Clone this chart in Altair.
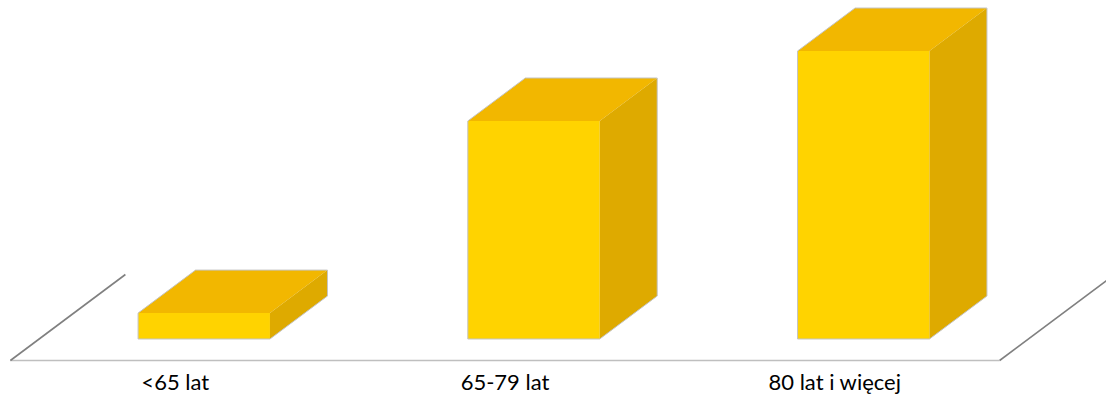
import altair as alt
import pandas as pd

# ---- data ----
categories = ["<65 lat", "65-79 lat", "80 lat i więcej"]
values = [9.0, 75.7, 100.0]

# ---- style / geometry constants (in data units) ----
BAR_W = 0.4          # width of the front face, in category units
DX = 0.1744          # depth offset along x
DY = 14.93           # depth offset along y (value units)
X_DOMAIN = [-0.6187, 2.7354]
Y_DOMAIN = [-19.792, 117.708]

FRONT = "#FFD300"
TOP = "#F2B700"
SIDE = "#DEAA00"
EDGE = "#C4C4C4"

front_rows, top_rows, side_rows, outline_rows, label_rows = [], [], [], [], []
for i, (c, v) in enumerate(zip(categories, values)):
    x0, x1 = i - BAR_W / 2, i + BAR_W / 2
    front_rows.append(dict(cat=c, x0=x0, x1=x1, y0=0.0, y1=v))
    for x, lo, hi in [(x0, v, v), (x0 + DX, v, v + DY), (x1, v, v + DY), (x1 + DX, v + DY, v + DY)]:
        top_rows.append(dict(cat=c, x=x, lo=lo, hi=hi))
    for x, lo, hi in [(x1, 0.0, v), (x1 + DX, DY, v + DY)]:
        side_rows.append(dict(cat=c, x=x, lo=lo, hi=hi))
    pts = [(x0, 0.0), (x0, v), (x0 + DX, v + DY), (x1 + DX, v + DY), (x1 + DX, DY), (x1, 0.0), (x0, 0.0)]
    for k, (x, y) in enumerate(pts):
        outline_rows.append(dict(cat=c, k=k, x=x, y=y))
    label_rows.append(dict(cat=c, x=i - 0.5 * DX, y=-0.5 * DY))

# floor (front edge + two receding side edges)
fy = -0.5 * DY
fxl = -0.5 - 0.5 * DX
fxr = (len(categories) - 0.5) - 0.5 * DX
floor_front = pd.DataFrame([dict(x=fxl, y=fy, x2=fxr, y2=fy)])
floor_sides = pd.DataFrame([
    dict(x=fxl, y=fy, x2=fxl + 2 * DX, y2=fy + 2 * DY),
    dict(x=fxr, y=fy, x2=fxr + 2 * DX, y2=fy + 2 * DY),
])

xs = alt.Scale(domain=X_DOMAIN, nice=False, zero=False)
ys = alt.Scale(domain=Y_DOMAIN, nice=False, zero=False)

front_line = alt.Chart(floor_front).mark_rule(color="#BFBFBF", strokeWidth=1.6, clip=True).encode(
    x=alt.X("x:Q", scale=xs, axis=None), x2="x2:Q",
    y=alt.Y("y:Q", scale=ys, axis=None), y2="y2:Q",
)
side_lines = alt.Chart(floor_sides).mark_rule(color="#808080", strokeWidth=1.6, clip=True).encode(
    x=alt.X("x:Q", scale=xs, axis=None), x2="x2:Q",
    y=alt.Y("y:Q", scale=ys, axis=None), y2="y2:Q",
)

front = alt.Chart(pd.DataFrame(front_rows)).mark_rect(color=FRONT, strokeWidth=0).encode(
    x=alt.X("x0:Q", scale=xs, axis=None), x2="x1:Q",
    y=alt.Y("y0:Q", scale=ys, axis=None), y2="y1:Q",
)
top = alt.Chart(pd.DataFrame(top_rows)).mark_area(color=TOP, opacity=1, interpolate="linear").encode(
    x=alt.X("x:Q", scale=xs, axis=None),
    y=alt.Y("lo:Q", scale=ys, axis=None), y2="hi:Q",
    detail="cat:N",
)
side = alt.Chart(pd.DataFrame(side_rows)).mark_area(color=SIDE, opacity=1, interpolate="linear").encode(
    x=alt.X("x:Q", scale=xs, axis=None),
    y=alt.Y("lo:Q", scale=ys, axis=None), y2="hi:Q",
    detail="cat:N",
)
outline = alt.Chart(pd.DataFrame(outline_rows)).mark_line(color=EDGE, strokeWidth=1).encode(
    x=alt.X("x:Q", scale=xs, axis=None),
    y=alt.Y("y:Q", scale=ys, axis=None),
    order="k:Q",
    detail="cat:N",
)
labels = alt.Chart(pd.DataFrame(label_rows)).mark_text(
    font="Lato", fontSize=22, color="#000000", baseline="alphabetic", align="center", dy=30
).encode(
    x=alt.X("x:Q", scale=xs, axis=None),
    y=alt.Y("y:Q", scale=ys, axis=None),
    text="cat:N",
)

chart = alt.layer(front_line, side_lines, front, top, side, outline, labels).properties(
    width=1106, height=396, autosize=alt.AutoSizeParams(type="none"), padding=0,
    background="#FFFFFF",
).configure_view(stroke=None)

chart.save("out.html", embed_options={"renderer": "svg", "actions": False})
